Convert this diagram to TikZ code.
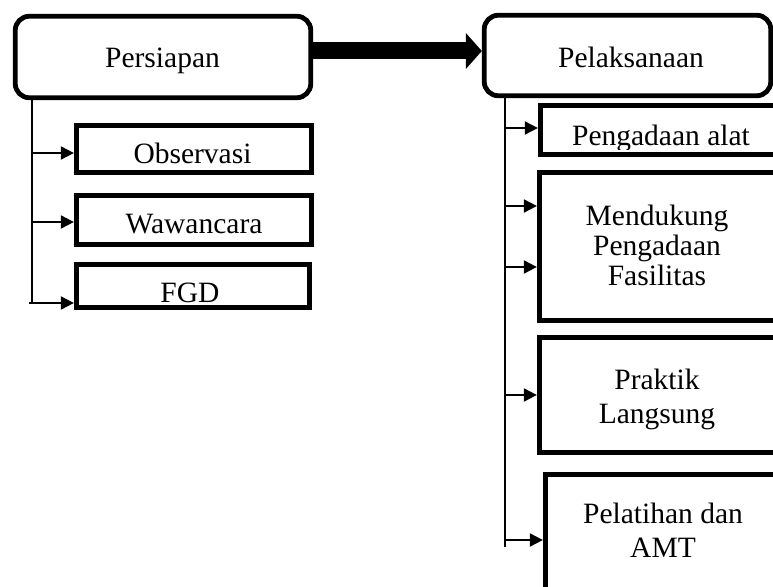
\documentclass[tikz,border=0pt]{standalone}
\usepackage{fontspec}
\setmainfont{Liberation Serif}
\usetikzlibrary{arrows.meta,fit}
\begin{document}
\begin{tikzpicture}[x=1pt,y=-1pt,
  lbl/.style={font=\fontsize{29.5}{29}\selectfont, inner sep=0pt, anchor=base},
  mlbl/.style={font=\fontsize{29.5}{#1}\selectfont, inner sep=0pt, anchor=north, align=center},
  rbox/.style={draw, line width=4.8pt, rounded corners=14pt, inner sep=0pt},
  sbox/.style={draw, line width=4.8pt, inner sep=0pt},
  conn/.style={line width=2pt, -{Triangle[length=13pt,width=13pt]}},
  trunk/.style={line width=1.6pt},
  bigarrow/.style={line width=17pt, -{Triangle[length=16pt,width=36pt,line width=0pt]}}]
\useasboundingbox (0,0) rectangle (773,586);
\clip (0,0) rectangle (773,586);

% main boxes
\node[rbox, fit={(15.25,16.25) (310.75,97.75)}] (per) {};
\node[rbox, fit={(484.25,15.25) (770.75,95.75)}] (pel) {};
\node[lbl] (perT) at (162.5,67) {Persiapan};
\node[lbl] (pelT) at (631,67) {Pelaksanaan};

% left sub boxes
\node[sbox, fit={(76.25,125.25) (311.75,172.75)}] (obs) {};
\node[sbox, fit={(76.25,195.25) (311.75,244.75)}] (waw) {};
\node[sbox, fit={(76.25,264.25) (309.75,307.75)}] (fgd) {};
\node[lbl] (obsT) at (192.5,163) {Observasi};
\node[lbl] (wawT) at (194,233) {Wawancara};
\begin{scope}
  \clip (78.5,266.5) rectangle (307.5,302);
  \node[lbl] (fgdT) at (190,302) {FGD};
\end{scope}

% right sub boxes
\node[sbox, fit={(540.25,105.25) (800,154.75)}] (alat) {};
\node[sbox, fit={(539.25,172.25) (800,320.75)}] (fas) {};
\node[sbox, fit={(539.25,337.25) (800,452.75)}] (prak) {};
\node[sbox, fit={(545.25,474.25) (800,620)}] (amt) {};
\begin{scope}
  \clip (542.5,107.5) rectangle (790,149);
  \node[lbl] (alatT) at (661,145) {Pengadaan alat};
\end{scope}
\node[mlbl=30] (fasT) at (657,205) {Mendukung\\Pengadaan\\Fasilitas};
\node[mlbl=34] (prakT) at (657,369) {Praktik\\Langsung};
\node[mlbl=34] (amtT) at (663,503) {Pelatihan dan\\AMT};

% big arrow
\draw[bigarrow] (per.east |- 0,51) -- (pel.west |- 0,51);

% left connectors
\coordinate (lt) at (32,97.75);
\coordinate (lb) at (32,304);
\draw[trunk] (lt) -- (lb);
\coordinate (l1) at (32,153);
\coordinate (l2) at (32,222);
\coordinate (l3) at (29,303);
\draw[conn] (l1) -- (l1 -| obs.west);
\draw[conn] (l2) -- (l2 -| waw.west);
\draw[conn] (l3) -- (l3 -| fgd.west);

% right connectors
\coordinate (rt) at (505,95.75);
\coordinate (rb) at (505,547);
\draw[trunk] (rt) -- (rb);
\coordinate (r1) at (505,128);
\coordinate (r2) at (505,206);
\coordinate (r3) at (505,267);
\coordinate (r4) at (505,395);
\coordinate (r5) at (505,540);
\draw[conn] (r1) -- (r1 -| alat.west);
\draw[conn] (r2) -- (r2 -| fas.west);
\draw[conn] (r3) -- (r3 -| fas.west);
\draw[conn] (r4) -- (r4 -| prak.west);
\draw[conn] (r5) -- (r5 -| amt.west);
\end{tikzpicture}
\end{document}
